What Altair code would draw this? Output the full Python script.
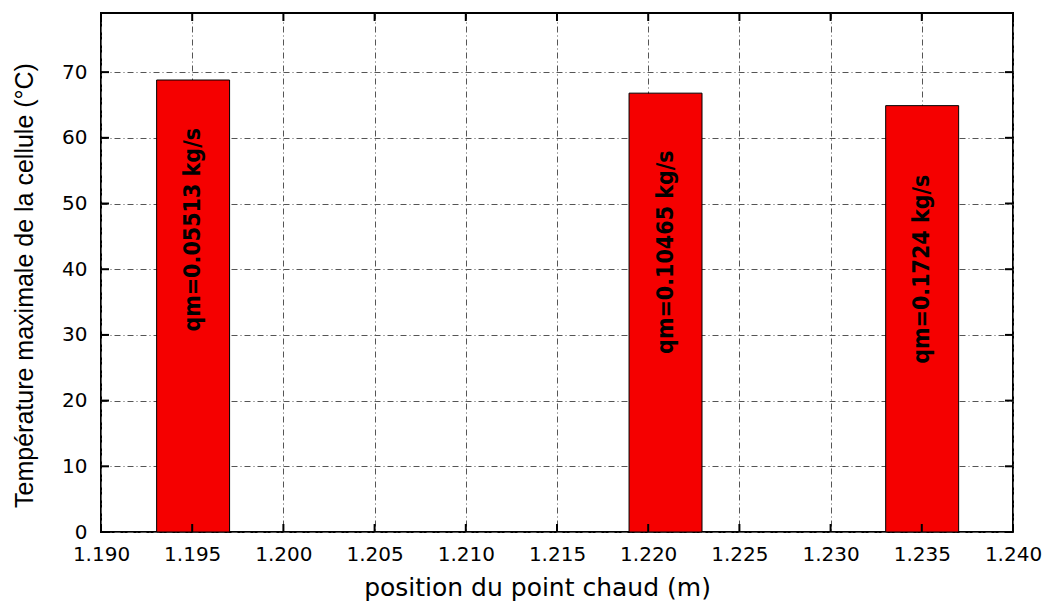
import altair as alt
import pandas as pd

positions = [1.19505, 1.22095, 1.23502]
temps = [68.8, 66.8, 64.9]
labels = ["qm=0.05513 kg/s", "qm=0.10465  kg/s", "qm=0.1724 kg/s"]
label_y = [46.0, 42.6, 40.0]
bar_width = 0.004

x_ticks = [1.190, 1.195, 1.200, 1.205, 1.210, 1.215, 1.220, 1.225, 1.230, 1.235, 1.240]
y_ticks = [0, 10, 20, 30, 40, 50, 60, 70]

W, H = 912, 519
XMIN, XMAX = 1.190, 1.240
YMIN, YMAX = 0, 79

df = pd.DataFrame({
    "x": positions,
    "x0": [p - bar_width / 2 for p in positions],
    "x1": [p + bar_width / 2 for p in positions],
    "t": temps,
    "label": labels,
    "ly": label_y,
})
dx = pd.DataFrame({"v": x_ticks})
dy = pd.DataFrame({"v": y_ticks})

xs = alt.Scale(domain=[XMIN, XMAX], nice=False, zero=False)
ys = alt.Scale(domain=[YMIN, YMAX], nice=False, zero=False)

grid_color = "#555555"

xaxis = alt.Axis(
    values=x_ticks, format=".3f", title="position du point chaud (m)",
    grid=True, gridDash=[6, 3, 1, 3], gridColor=grid_color, gridWidth=1,
    ticks=False, domain=False, labelFontSize=20, labelFont="DejaVu Sans",
    labelColor="black", labelPadding=12, titleFontSize=25, titleFont="DejaVu Sans",
    titleFontWeight="normal", titleColor="black", titlePadding=11, labelFlush=False,
    titleX=436,
)
yaxis = alt.Axis(
    values=y_ticks, title="Température maximale de la cellule (°C)",
    grid=True, gridDash=[6, 3, 1, 3], gridColor=grid_color, gridWidth=1,
    ticks=False, domain=False, labelFontSize=20, labelFont="DejaVu Sans",
    labelColor="black", labelPadding=14, titleFontSize=25, titleFont="Liberation Sans",
    titleFontWeight="normal", titleColor="black", titlePadding=24, titleY=272,
)

bars = alt.Chart(df).mark_bar(color="#f50000", stroke="black", strokeWidth=1).encode(
    x=alt.X("x0:Q", scale=xs, axis=xaxis),
    x2="x1:Q",
    y=alt.Y("t:Q", scale=ys, axis=yaxis),
    y2=alt.datum(0),
)

text = alt.Chart(df).mark_text(
    angle=270, font="DejaVu Sans Condensed", fontWeight="bold", fontSize=23,
    color="black", align="center", baseline="middle", dy=0,
).encode(
    x=alt.X("x:Q", scale=xs),
    y=alt.Y("ly:Q", scale=ys),
    text="label:N",
)

tick_len = 8
xt_bottom = alt.Chart(dx).mark_rule(color="black", strokeWidth=2).encode(
    x=alt.X("v:Q", scale=xs), y=alt.value(H), y2=alt.value(H - tick_len))
xt_top = alt.Chart(dx).mark_rule(color="black", strokeWidth=2).encode(
    x=alt.X("v:Q", scale=xs), y=alt.value(0), y2=alt.value(tick_len))
yt_left = alt.Chart(dy).mark_rule(color="black", strokeWidth=2).encode(
    y=alt.Y("v:Q", scale=ys), x=alt.value(0), x2=alt.value(tick_len))
yt_right = alt.Chart(dy).mark_rule(color="black", strokeWidth=2).encode(
    y=alt.Y("v:Q", scale=ys), x=alt.value(W), x2=alt.value(W - tick_len))

chart = alt.layer(bars, text, xt_bottom, xt_top, yt_left, yt_right).properties(
    width=W, height=H,
    autosize=alt.AutoSizeParams(type="none"),
    padding={"left": 101, "top": 13, "right": 33, "bottom": 71},
    background="white",
).configure_view(stroke="black", strokeWidth=2)

chart.save("out.html", embed_options={"renderer": "svg", "actions": False})
